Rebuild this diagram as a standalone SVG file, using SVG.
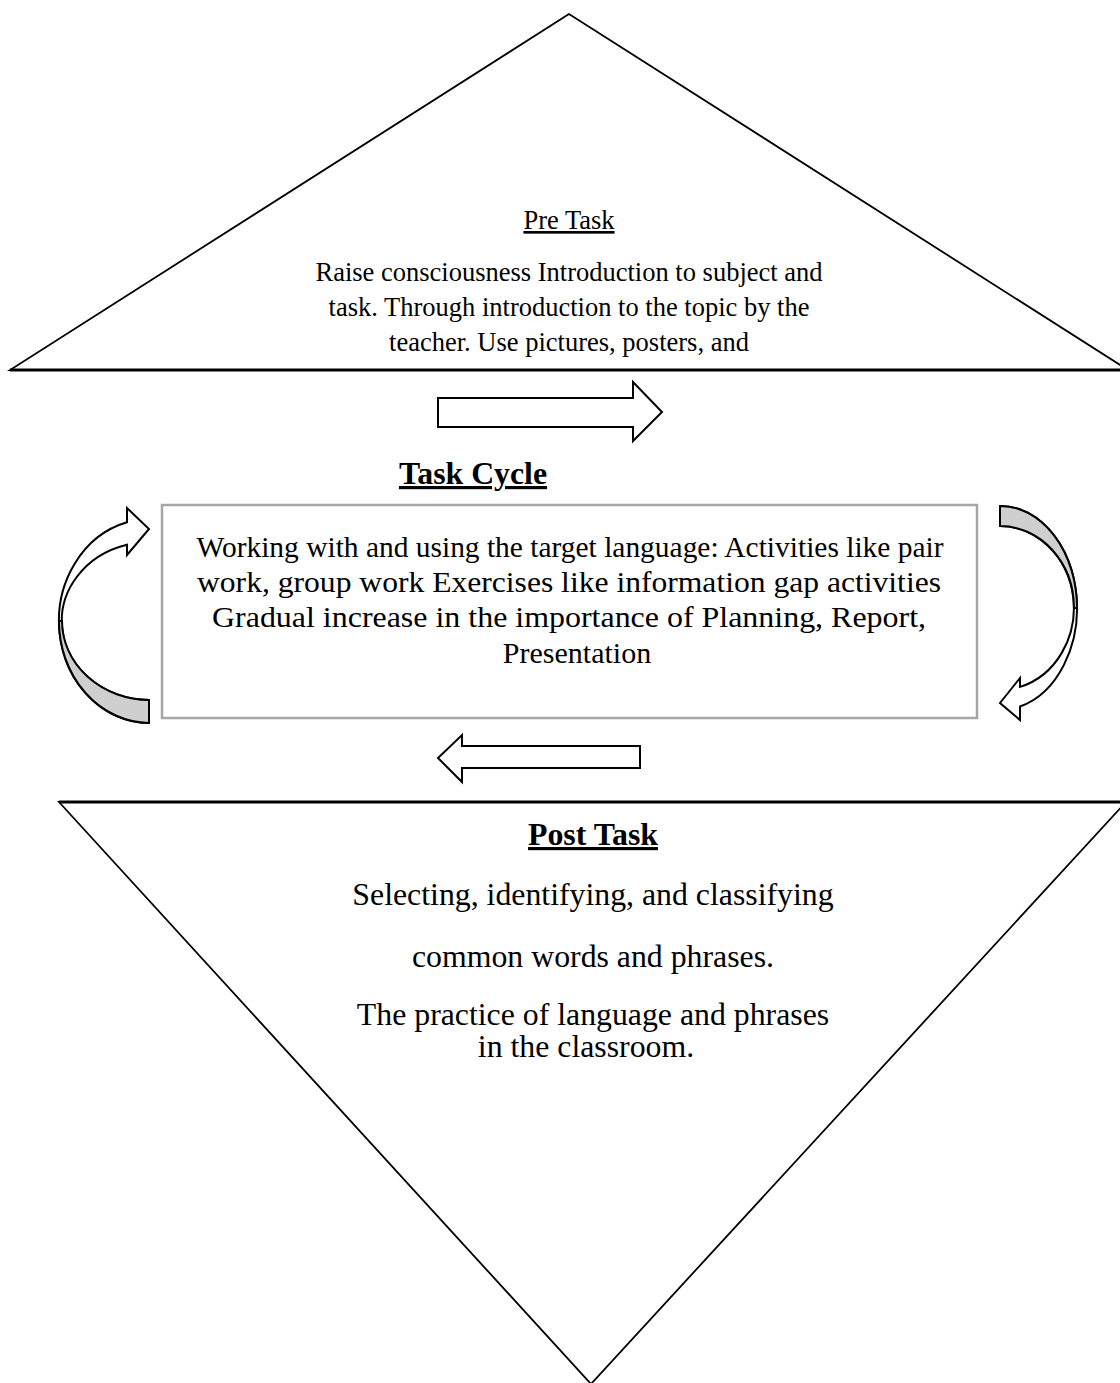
<svg xmlns="http://www.w3.org/2000/svg" width="1120" height="1383" viewBox="0 0 1120 1383">
<style>
.t{font-family:"Liberation Serif","Times New Roman",serif;fill:#000;text-anchor:middle}
.s1{font-size:26.5px}
.s2{font-size:30px}
.s3{font-size:31.8px}
.b{font-weight:bold}
.u{text-decoration:underline}
.ln{fill:none;stroke:#000;stroke-width:1.8;stroke-linejoin:miter}
.blk{fill:#fff;stroke:#000;stroke-width:2;stroke-linejoin:miter}
.gray{fill:#cfcfcf;stroke:#000;stroke-width:2;stroke-linejoin:miter}
</style>
<rect width="1120" height="1383" fill="#fff"/>
<g id="pre-task">
<polygon class="ln" points="569,14 10,370 1128,370"/>
<line x1="10" y1="370" x2="1120" y2="370" stroke="#000" stroke-width="3"/>
<text class="t s1 u" x="569" y="229">Pre Task</text>
<text class="t s1" x="569" y="281">Raise consciousness Introduction to subject and</text>
<text class="t s1" x="569" y="316">task. Through introduction to the topic by the</text>
<text class="t s1" x="569" y="351">teacher. Use pictures, posters, and</text>
</g>
<g id="task-cycle-title">
<text class="t s3 b u" x="473" y="484">Task Cycle</text>
</g>
<g id="task-cycle">
<rect x="162" y="505" width="815" height="213" fill="#fff" stroke="#a6a6a6" stroke-width="2.5"/>
<text class="t s2" x="570" y="557" textLength="747" lengthAdjust="spacingAndGlyphs">Working with and using the target language: Activities like pair</text>
<text class="t s2" x="569" y="592" textLength="744" lengthAdjust="spacingAndGlyphs">work, group work Exercises like information gap activities</text>
<text class="t s2" x="569" y="627" textLength="714" lengthAdjust="spacingAndGlyphs">Gradual increase in the importance of Planning, Report,</text>
<text class="t s2" x="577" y="663">Presentation</text>
</g>
<g id="post-task">
<polygon class="ln" points="59,802 1126,802 591,1384"/>
<line x1="59" y1="802" x2="1120" y2="802" stroke="#000" stroke-width="3"/>
<text class="t s3 b u" x="593" y="845">Post Task</text>
<text class="t s3" x="593" y="905">Selecting, identifying, and classifying</text>
<text class="t s3" x="593" y="967">common words and phrases.</text>
<text class="t s3" x="593" y="1025">The practice of language and phrases</text>
<text class="t s3" x="586" y="1057">in the classroom.</text>
</g>
<g id="connectors">
<path class="blk" d="M438,398 L633,398 L633,382 L662,412 L633,441 L633,427 L438,427 Z"/>
<path class="blk" d="M640,746 L462,746 L462,735 L438,758 L462,782 L462,768 L640,768 Z"/>
<path class="blk" d="M149,723 A91,102 0 0 1 127,522.3 L127,508 L149,529 L127,555 L127,544.7 A88,79 0 0 0 149,700 Z"/>
<path class="gray" d="M59,621 A91,102 0 0 0 149,723 L149,700 A88,79 0 0 1 62,621 Z"/>
<path class="blk" d="M1000,506 A77,102 0 0 1 1020,706.5 L1020,720 L1000,703 L1020,678 L1020,686.9 A74,82 0 0 0 1000,526 Z"/>
<path class="gray" d="M1000,506 A77,102 0 0 1 1077,608 L1074,608 A74,82 0 0 0 1000,526 Z"/>
</g>
</svg>
